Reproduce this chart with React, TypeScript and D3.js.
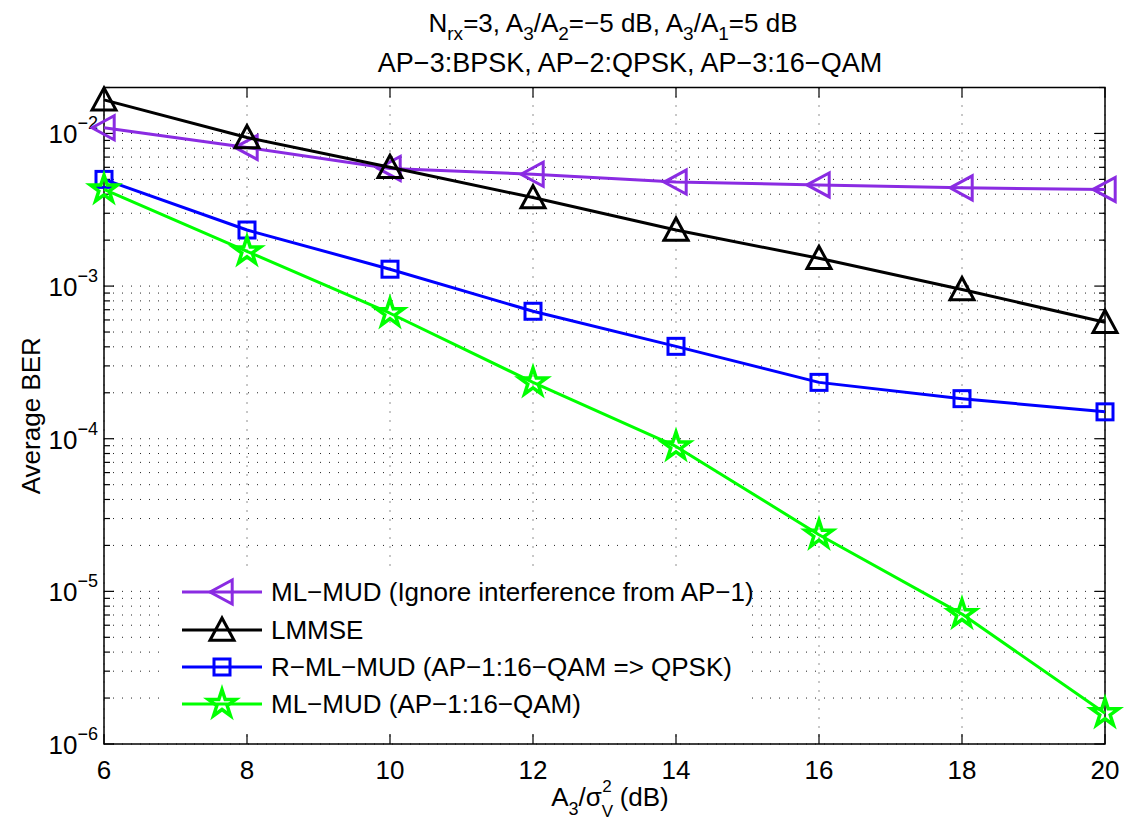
import React from "react";
import * as d3 from "d3";

const xValues = [6, 8, 10, 12, 14, 16, 18, 20];
const berIgnoreAP1 = [0.0109, 0.0081, 0.0059, 0.0054, 0.0048, 0.0046, 0.0044, 0.0043];
const berLMMSE = [0.0166, 0.0094, 0.006, 0.0038, 0.00233, 0.00152, 0.00095, 0.00058];
const berRMLMUD = [0.005, 0.00233, 0.00129, 0.000684, 0.000403, 0.000234, 0.000183, 0.00015];
const berMLMUD = [0.0043, 0.00169, 0.000664, 0.000234, 0.000089, 0.0000235, 0.0000071, 0.00000159];

const xTicks = [6, 8, 10, 12, 14, 16, 18, 20];
const yDecades = [-6, -5, -4, -3, -2];

const seriesNames = [
  "ML\u2212MUD (Ignore interference from AP\u22121)",
  "LMMSE",
  "R\u2212ML\u2212MUD (AP\u22121:16\u2212QAM => QPSK)",
  "ML\u2212MUD (AP\u22121:16\u2212QAM)",
];
const seriesColors = ["#8a2be2", "#000000", "#0000ff", "#00ff00"];
const seriesMarkers = ["tri-left", "tri-up", "square", "star"];
const seriesData = [berIgnoreAP1, berLMMSE, berRMLMUD, berMLMUD];

const W = 1126, H = 832;
const L = 104, R = 1105, T = 87.5, B = 744;
const FONT = "'Liberation Sans', Arial, Helvetica, sans-serif";
const FS = 26;

function Marker({ type, x, y, color }: { type: string; x: number; y: number; color: string }) {
  const sw = 3;
  if (type === "tri-left") {
    const s = 12;
    const pts = [[x - s, y], [x + s * 0.85, y - s], [x + s * 0.85, y + s]];
    return <polygon points={pts.map((p) => p.join(",")).join(" ")} fill="none" stroke={color} strokeWidth={sw} />;
  }
  if (type === "tri-up") {
    const s = 12;
    const pts = [[x, y - s], [x - s, y + s * 0.85], [x + s, y + s * 0.85]];
    return <polygon points={pts.map((p) => p.join(",")).join(" ")} fill="none" stroke={color} strokeWidth={sw} />;
  }
  if (type === "square") {
    const s = 8;
    return <rect x={x - s} y={y - s} width={2 * s} height={2 * s} fill="none" stroke={color} strokeWidth={sw} />;
  }
  const path = d3.symbol(d3.symbolStar, 230)();
  return <path d={path || ""} transform={`translate(${x},${y})`} fill="none" stroke={color} strokeWidth={3.5} strokeLinejoin="miter" />;
}

export default function App() {
  const x = d3.scaleLinear().domain([6, 20]).range([L, R]);
  const y = d3.scaleLog().domain([1e-6, 0.02]).range([B, T]);

  const minorVals: number[] = [];
  yDecades.forEach((d) => {
    for (let k = 1; k <= 9; k++) {
      const v = k * Math.pow(10, d);
      if (v >= 1e-6 && v <= 0.02 + 1e-12) minorVals.push(v);
    }
  });

  const line = d3
    .line<number>()
    .x((_, i) => x(xValues[i]))
    .y((v) => y(v));

  const dash = "1,8";
  const legX0 = 182, legX1 = 262, legTextX = 271;
  const legY = [592, 630, 667, 704];

  return (
    <svg width={W} height={H} style={{ position: "absolute", left: 0, top: 0, background: "#fff" }} fontFamily={FONT}>
      <rect x={0} y={0} width={W} height={H} fill="#fff" />
      {/* grid */}
      {xTicks.map((t) => (
        <line key={"gx" + t} x1={x(t)} x2={x(t)} y1={T} y2={B} stroke="#222" strokeWidth={1} strokeDasharray={dash} />
      ))}
      {minorVals.map((v, i) => (
        <line key={"gy" + i} x1={L} x2={R} y1={y(v)} y2={y(v)} stroke="#222" strokeWidth={1} strokeDasharray={dash} />
      ))}
      {/* ticks */}
      {xTicks.map((t) => (
        <g key={"tx" + t}>
          <line x1={x(t)} x2={x(t)} y1={B} y2={B - 10} stroke="#000" strokeWidth={1.2} />
          <line x1={x(t)} x2={x(t)} y1={T} y2={T + 10} stroke="#000" strokeWidth={1.2} />
          <text x={x(t)} y={779} textAnchor="middle" fontSize={FS}>{t}</text>
        </g>
      ))}
      {minorVals.map((v, i) => {
        const major = Math.abs(Math.log10(v) - Math.round(Math.log10(v))) < 1e-9;
        const len = major ? 10 : 6;
        return (
          <g key={"ty" + i}>
            <line x1={L} x2={L + len} y1={y(v)} y2={y(v)} stroke="#000" strokeWidth={1.2} />
            <line x1={R} x2={R - len} y1={y(v)} y2={y(v)} stroke="#000" strokeWidth={1.2} />
          </g>
        );
      })}
      {yDecades.map((d) => (
        <text key={"yl" + d} x={98} y={y(Math.pow(10, d)) + 10} textAnchor="end" fontSize={FS}>
          10<tspan fontSize={18} dy={-14}>{"\u2212" + Math.abs(d)}</tspan>
        </text>
      ))}
      {/* axes box */}
      <rect x={L} y={T} width={R - L} height={B - T} fill="none" stroke="#000" strokeWidth={1.5} />
      {/* data */}
      {seriesData.map((data, si) => (
        <g key={"s" + si}>
          <path d={line(data) || ""} fill="none" stroke={seriesColors[si]} strokeWidth={3} strokeLinejoin="round" />
          {data.map((v, i) => (
            <Marker key={i} type={seriesMarkers[si]} x={x(xValues[i])} y={y(v)} color={seriesColors[si]} />
          ))}
        </g>
      ))}
      {/* legend */}
      <rect x={167} y={569} width={584} height={163} fill="#fff" />
      {seriesNames.map((n, i) => (
        <g key={"lg" + i}>
          <line x1={legX0} x2={legX1} y1={legY[i]} y2={legY[i]} stroke={seriesColors[i]} strokeWidth={3} />
          <Marker type={seriesMarkers[i]} x={(legX0 + legX1) / 2} y={legY[i]} color={seriesColors[i]} />
          <text x={legTextX} y={legY[i] + 9} fontSize={FS}>{n}</text>
        </g>
      ))}
      {/* title */}
      <text x={613} y={32} textAnchor="middle" fontSize={26}>
        N<tspan fontSize={19} dy={8}>rx</tspan>
        <tspan dy={-8}>=3, A</tspan>
        <tspan fontSize={19} dy={8}>3</tspan>
        <tspan dy={-8}>/A</tspan>
        <tspan fontSize={19} dy={8}>2</tspan>
        <tspan dy={-8}>{"=\u22125 dB, A"}</tspan>
        <tspan fontSize={19} dy={8}>3</tspan>
        <tspan dy={-8}>/A</tspan>
        <tspan fontSize={19} dy={8}>1</tspan>
        <tspan dy={-8}>=5 dB</tspan>
      </text>
      <text x={630} y={72} textAnchor="middle" fontSize={27}>
        {"AP\u22123:BPSK, AP\u22122:QPSK, AP\u22123:16\u2212QAM"}
      </text>
      {/* x label */}
      <text x={610} y={806} textAnchor="middle" fontSize={FS}>
        A<tspan fontSize={18} dy={9}>3</tspan>
        <tspan dy={-9}>/σ</tspan>
        <tspan fontSize={17} dy={11}>V</tspan>
        <tspan fontSize={17} dx={-11} dy={-25}>2</tspan>
        <tspan dx={8} dy={14}>(dB)</tspan>
      </text>
      {/* y label */}
      <text transform={`translate(40,${(T + B) / 2}) rotate(-90)`} textAnchor="middle" fontSize={FS}>
        Average BER
      </text>
    </svg>
  );
}
